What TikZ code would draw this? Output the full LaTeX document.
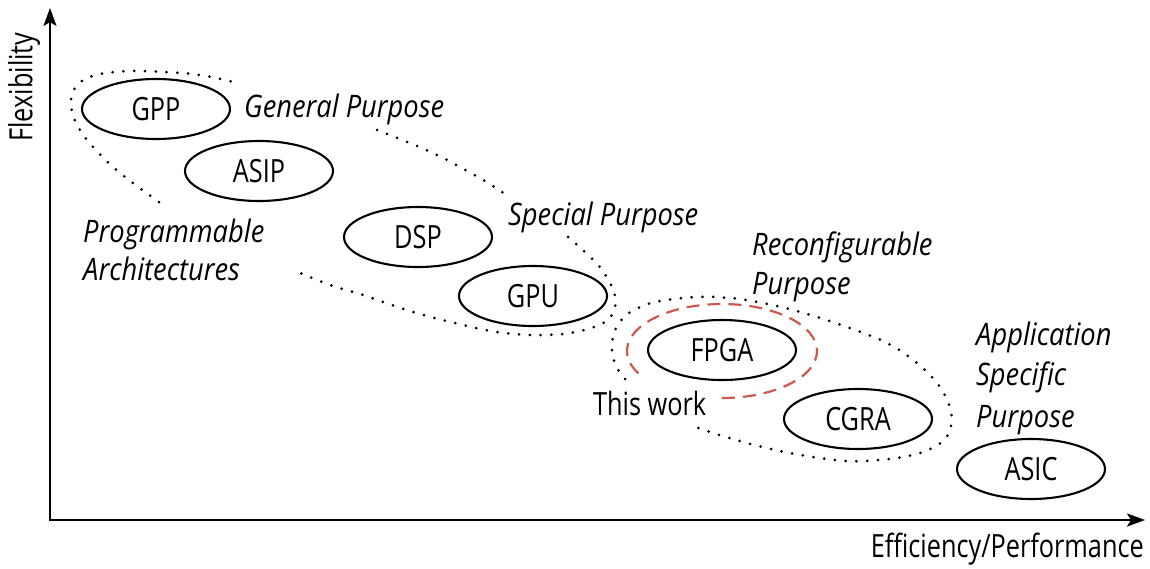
\documentclass[tikz,border=0pt]{standalone}
\usepackage{fontspec}
\setmainfont{Open Sans}[UprightFeatures={FakeStretch=0.79}, ItalicFeatures={FakeStretch=0.88}]
\usetikzlibrary{shapes.geometric,arrows.meta}

\definecolor{workred}{RGB}{205,88,78}

\tikzset{
  chip/.style={draw, line width=2.1pt, ellipse, minimum width=148pt,
    minimum height=60pt, inner sep=0pt, font=\fontsize{32}{38}\selectfont},
  grouplabel/.style={anchor=base west, inner sep=0pt,
    font=\fontsize{31}{37}\selectfont\itshape},
  plainlabel/.style={inner sep=0pt, font=\fontsize{32}{38}\selectfont},
  axis/.style={line width=2.4pt, line join=miter,
    {Stealth[length=18pt,width=13pt,inset=4pt]}-{Stealth[length=18pt,width=13pt,inset=4pt]}},
  groupline/.style={line width=3pt, line cap=round, dash pattern=on 0pt off 10.8pt},
  thiswork/.style={workred, line width=2.2pt, dash pattern=on 13pt off 8pt}
}

\begin{document}
\begin{tikzpicture}[x=1pt, y=-1pt]
  \useasboundingbox (0,0) rectangle (1150,568);

  % axes
  \coordinate (ytop) at (50,8);
  \coordinate (origin) at (50,520);
  \coordinate (xend) at (1145,520);
  \draw[axis] (ytop) -- (origin) -- (xend);
  \node[plainlabel, rotate=90] (flex) at (24,87) {Flexibility};
  \node[plainlabel, anchor=base east] (eff) at (1144,557) {Efficiency/Performance};

  % architectures
  \node[chip] (gpp)  at (156,109) {GPP};
  \node[chip] (asip) at (259,171) {ASIP};
  \node[chip] (dsp)  at (418,237) {DSP};
  \node[chip] (gpu)  at (533,296) {GPU};
  \node[chip] (fpga) at (722,350) {FPGA};
  \node[chip] (cgra) at (858,419) {CGRA};
  \node[chip] (asic) at (1031,469) {ASIC};

  % group labels
  \node[grouplabel] (lgen) at (244,117) {General Purpose};
  \node[grouplabel] (lprog1) at (83,242) {Programmable};
  \node[grouplabel] (lprog2) at (83,280) {Architectures};
  \node[grouplabel] (lspec) at (508,225) {Special Purpose};
  \node[grouplabel] (lrec1) at (752,255) {Reconfigurable};
  \node[grouplabel] (lrec2) at (752,294) {Purpose};
  \node[grouplabel] (lapp1) at (976,345) {Application};
  \node[grouplabel] (lapp2) at (976,385) {Specific};
  \node[grouplabel] (lapp3) at (976,427) {Purpose};
  \node[plainlabel, anchor=base west] (lwork) at (593,415) {This work};

  % dotted group outlines
  \draw[groupline] plot[smooth, tension=0.6] coordinates {
    (159,202) (133,183) (113,167) (93,147) (80,130) (72,112) (72,94)
    (82,81) (100,74) (130,71) (165,72) (200,75) (238,83)};
  \draw[groupline] plot[smooth, tension=0.6] coordinates {
    (377,130) (433,153) (483,180) (505,194)};
  \draw[groupline] plot[smooth, tension=0.6] coordinates {
    (568,237) (585,252) (599,266) (609,281) (615,296) (614,311) (605,322)
    (588,329) (563,334) (530,335) (497,332) (463,325) (413,312)
    (363,295) (330,285) (293,270)};
  \draw[groupline] plot[smooth, tension=0.6] coordinates {
    (625,379) (616,366) (612,350) (614,333) (623,318) (638,308) (660,301)
    (697,297) (730,298) (757,302) (797,311) (847,327) (887,343)
    (917,363) (940,387) (951,412) (949,433) (936,446) (913,455)
    (880,460) (847,461) (813,457) (780,451) (747,443) (713,433) (690,425)};

  % highlighted element
  \draw[thiswork] ([yshift=-48pt]fpga.center)
    arc[start angle=90, end angle=-212, x radius=95, y radius=47];
\end{tikzpicture}
\end{document}
